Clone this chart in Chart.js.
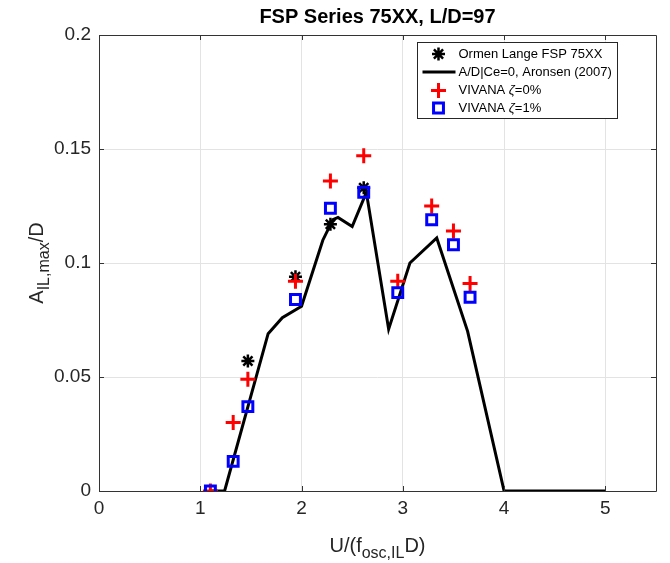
<!DOCTYPE html>
<html>
<head>
<meta charset="utf-8">
<script src="https://cdn.jsdelivr.net/npm/chart.js@4.4.0/dist/chart.umd.min.js"></script>
<style>
  html, body { margin: 0; padding: 0; background: #ffffff; }
  #wrap { width: 670px; height: 563px; }
</style>
</head>
<body>
<div id="wrap"><canvas id="c" width="670" height="563"></canvas></div>
<script>
// ---- data ----
const chartTitle = 'FSP Series 75XX, L/D=97';
const ormenLabel = 'Ormen Lange FSP 75XX';
const aronsenLabel = 'A/D|Ce=0, Aronsen (2007)';
const viv0Label = ['VIVANA ', 'ζ', '=0%'];
const viv1Label = ['VIVANA ', 'ζ', '=1%'];

const ormenX = [1.47, 1.94, 2.285, 2.614];
const ormenY = [0.057, 0.094, 0.117, 0.133];

const aronsenX = [1.10, 1.24, 1.67, 1.81, 2.00, 2.21, 2.31, 2.36, 2.50, 2.64, 2.86, 3.07, 3.335, 3.64, 4.00, 5.00];
const aronsenY = [0, 0, 0.069, 0.076, 0.081, 0.110, 0.119, 0.120, 0.116, 0.131, 0.071, 0.100, 0.111, 0.070, 0, 0];

const vivanaX = [1.10, 1.325, 1.47, 1.94, 2.285, 2.614, 2.95, 3.285, 3.50, 3.664];
const viv0Y = [0, 0.030, 0.049, 0.092, 0.136, 0.147, 0.092, 0.125, 0.114, 0.091];
const viv1Y = [0, 0.013, 0.037, 0.084, 0.124, 0.131, 0.087, 0.119, 0.108, 0.085];

const xTickValues = [0, 1, 2, 3, 4, 5];
const yTickValues = [0, 0.05, 0.1, 0.15, 0.2];
const yTickLabels = ['0', '0.05', '0.1', '0.15', '0.2'];

// ---- helpers ----
const FONT = '"Liberation Sans", Arial, Helvetica, sans-serif';
const TXT = '#262626';
const pts = (xs, ys) => xs.map((x, i) => ({ x: x, y: ys[i] }));

// draw text pieces with subscripts; returns total width
function richText(ctx, parts, x, y, measureOnly) {
  let w = 0;
  parts.forEach(p => {
    ctx.font = (p.italic ? 'italic ' : '') + p.size + 'px ' + FONT;
    const pw = ctx.measureText(p.t).width;
    if (!measureOnly) ctx.fillText(p.t, x + w, y + (p.dy || 0));
    w += pw;
  });
  return w;
}

const decorPlugin = {
  id: 'decor',
  afterDraw(chart) {
    const ctx = chart.ctx;
    const a = chart.chartArea;
    const xs = chart.scales.x, ys = chart.scales.y;
    ctx.save();

    // box and inward ticks
    ctx.strokeStyle = '#333333';
    ctx.lineWidth = 1;
    ctx.beginPath();
    ctx.rect(Math.round(a.left) + 0.5, Math.round(a.top) + 0.5, Math.round(a.right - a.left), Math.round(a.bottom - a.top));
    ctx.stroke();
    const tl = 5;
    ctx.beginPath();
    xTickValues.forEach(v => {
      const px = Math.round(xs.getPixelForValue(v)) + 0.5;
      ctx.moveTo(px, a.bottom); ctx.lineTo(px, a.bottom - tl);
      ctx.moveTo(px, a.top); ctx.lineTo(px, a.top + tl);
    });
    yTickValues.forEach(v => {
      const py = Math.round(ys.getPixelForValue(v)) + 0.5;
      ctx.moveTo(a.left, py); ctx.lineTo(a.left + tl, py);
      ctx.moveTo(a.right, py); ctx.lineTo(a.right - tl, py);
    });
    ctx.stroke();

    // title
    ctx.fillStyle = '#000000';
    ctx.font = 'bold 20px ' + FONT;
    ctx.textAlign = 'center';
    ctx.textBaseline = 'alphabetic';
    ctx.fillText(chartTitle, (a.left + a.right) / 2, 23);

    // x axis title: U/(f_osc,IL D)
    ctx.textAlign = 'left';
    ctx.fillStyle = TXT;
    const xParts = [
      { t: 'U/(f', size: 20 },
      { t: 'osc,IL', size: 16, dy: 6 },
      { t: 'D)', size: 20 }
    ];
    const xw = richText(ctx, xParts, 0, 0, true);
    richText(ctx, xParts, (a.left + a.right) / 2 - xw / 2, 552, false);

    // y axis title: A_IL,max /D (rotated)
    const yParts = [
      { t: 'A', size: 20 },
      { t: 'IL,max', size: 16, dy: 6 },
      { t: '/D', size: 20 }
    ];
    const yw = richText(ctx, yParts, 0, 0, true);
    ctx.save();
    ctx.translate(43, (a.top + a.bottom) / 2);
    ctx.rotate(-Math.PI / 2);
    richText(ctx, yParts, -yw / 2, 0, false);
    ctx.restore();

    // legend
    const bw = 200, bh = 76;
    const bx = Math.round(a.right - 39 - bw) + 0.5;
    const by = Math.round(a.top + 7) + 0.5;
    ctx.fillStyle = '#ffffff';
    ctx.fillRect(bx, by, bw, bh);
    ctx.strokeStyle = '#262626';
    ctx.lineWidth = 1;
    ctx.strokeRect(bx, by, bw, bh);

    const rows = [11.5, 29.5, 48, 65.5];
    const ix = bx + 21;
    const tx = bx + 41;
    const ds = chart.data.datasets;
    // asterisk
    ctx.strokeStyle = ds[0].borderColor;
    ctx.lineWidth = 2.5;
    Chart.helpers.drawPoint(ctx, { pointStyle: 'star', radius: 6.5, borderWidth: 2.5 }, ix, by + rows[0]);
    // line
    ctx.beginPath();
    ctx.moveTo(bx + 5, by + rows[1]); ctx.lineTo(bx + 38, by + rows[1]);
    ctx.strokeStyle = '#000000'; ctx.lineWidth = 3; ctx.stroke();
    // plus
    ctx.strokeStyle = '#ff0000'; ctx.lineWidth = 3;
    Chart.helpers.drawPoint(ctx, { pointStyle: 'cross', radius: 7.5, borderWidth: 3 }, ix, by + rows[2]);
    // square
    ctx.strokeStyle = '#0000ff'; ctx.fillStyle = 'rgba(0,0,0,0)'; ctx.lineWidth = 3;
    Chart.helpers.drawPoint(ctx, { pointStyle: 'rect', radius: 7, borderWidth: 3 }, ix, by + rows[3]);

    ctx.fillStyle = '#000000';
    ctx.textBaseline = 'middle';
    ctx.textAlign = 'left';
    const ls = 13;
    richText(ctx, [{ t: ormenLabel, size: ls }], tx, by + rows[0]);
    richText(ctx, [{ t: aronsenLabel, size: ls }], tx, by + rows[1]);
    richText(ctx, [{ t: viv0Label[0], size: ls }, { t: viv0Label[1], size: ls, italic: true }, { t: viv0Label[2], size: ls }], tx, by + rows[2]);
    richText(ctx, [{ t: viv1Label[0], size: ls }, { t: viv1Label[1], size: ls, italic: true }, { t: viv1Label[2], size: ls }], tx, by + rows[3]);

    ctx.restore();
  }
};

new Chart(document.getElementById('c'), {
  type: 'scatter',
  data: {
    datasets: [
      {
        label: ormenLabel,
        data: pts(ormenX, ormenY),
        pointStyle: 'star',
        pointRadius: 6.5,
        pointBorderWidth: 2.5,
        borderColor: '#000000',
        backgroundColor: '#000000',
        showLine: false,
        order: 4
      },
      {
        label: aronsenLabel,
        data: pts(aronsenX, aronsenY),
        showLine: true,
        borderColor: '#000000',
        borderWidth: 3,
        pointRadius: 0,
        tension: 0,
        order: 3
      },
      {
        label: viv0Label.join(''),
        data: pts(vivanaX, viv0Y),
        pointStyle: 'cross',
        pointRadius: 7.5,
        pointBorderWidth: 3,
        borderColor: '#ff0000',
        backgroundColor: '#ff0000',
        showLine: false,
        order: 2
      },
      {
        label: viv1Label.join(''),
        data: pts(vivanaX, viv1Y),
        pointStyle: 'rect',
        pointRadius: 7,
        pointBorderWidth: 3,
        borderColor: '#0000ff',
        backgroundColor: 'rgba(0,0,0,0)',
        showLine: false,
        order: 1
      }
    ]
  },
  options: {
    responsive: false,
    animation: false,
    devicePixelRatio: 1,
    layout: { padding: { top: 35, right: 14, left: 0, bottom: 0 } },
    plugins: {
      legend: { display: false },
      tooltip: { enabled: false },
      title: { display: false }
    },
    scales: {
      x: {
        type: 'linear',
        min: 0,
        max: 5.5,
        afterBuildTicks(s) { s.ticks = xTickValues.map(v => ({ value: v })); },
        afterFit(s) { s.height = 72; },
        ticks: {
          callback: v => String(v),
          font: { family: FONT, size: 19 },
          color: TXT,
          padding: 6,
          maxRotation: 0,
          autoSkip: false
        },
        grid: { color: '#e3e3e3', drawTicks: false },
        border: { display: false }
      },
      y: {
        type: 'linear',
        min: 0,
        max: 0.2,
        afterBuildTicks(s) { s.ticks = yTickValues.map(v => ({ value: v })); },
        afterFit(s) { s.width = 99; },
        ticks: {
          callback: (v) => yTickLabels[yTickValues.findIndex(t => Math.abs(t - v) < 1e-9)],
          font: { family: FONT, size: 19 },
          color: TXT,
          padding: 8,
          autoSkip: false
        },
        grid: { color: '#e3e3e3', drawTicks: false },
        border: { display: false }
      }
    }
  },
  plugins: [decorPlugin]
});
</script>
</body>
</html>
